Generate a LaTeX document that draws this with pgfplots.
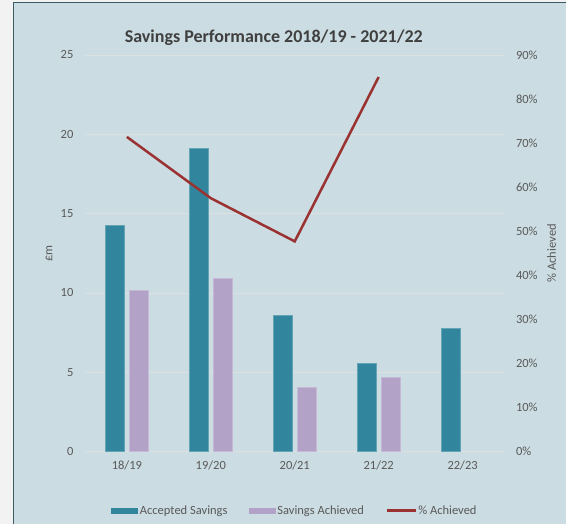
\documentclass[border=0pt]{standalone}
\usepackage{fontspec}
\setmainfont{Carlito}
\usepackage{pgfplots}
\pgfplotsset{compat=1.18}
\definecolor{outer}{RGB}{242,242,242}
\definecolor{bg}{RGB}{203,220,226}
\definecolor{frame}{RGB}{60,90,100}
\definecolor{gridc}{RGB}{220,224,224}
\definecolor{tealbar}{RGB}{49,133,156}
\definecolor{purpbar}{RGB}{179,162,199}
\definecolor{redline}{RGB}{155,50,50}
\definecolor{txt}{RGB}{89,89,89}
\definecolor{ttl}{RGB}{64,64,64}
\pgfplotsset{
  barlegend/.style={legend image code/.code={\fill[##1, draw=none] (0pt,-3pt) rectangle (27pt,3pt);}},
  linelegend/.style={legend image code/.code={\draw[##1] (0pt,0pt) -- (29pt,0pt);}},
}
\begin{document}
\begin{tikzpicture}[x=1pt,y=1pt]
\fill[outer] (0,0) rectangle (566,524);
\fill[bg] (14,0) rectangle (566,521);
\draw[frame, line width=1pt] (14,0) -- (14,521) -- (566,521);
\node[font=\fontsize{18}{22}\selectfont\bfseries, text=ttl, anchor=base] at (274,481.5) {Savings Performance 2018/19 - 2021/22};
\begin{axis}[
  at={(85pt,72pt)}, anchor=south west,
  width=420pt, height=397pt, scale only axis,
  xmin=-0.5, xmax=4.5, ymin=0, ymax=25,
  ytick={0,5,10,15,20,25},
  xtick={0,1,2,3,4},
  xticklabels={18/19,19/20,20/21,21/22,22/23},
  ymajorgrids, grid style={gridc, line width=0.8pt},
  axis line style={draw=none}, major tick length=0pt,
  tick label style={font=\fontsize{12.5}{15}\selectfont, text=txt},
  /pgf/number format/assume math mode=true,
  yticklabel style={xshift=-8pt},
  xticklabel style={yshift=-6pt},
  ylabel={£m},
  every axis y label/.style={at={(axis description cs:-0.0857,0.5)}, rotate=90, anchor=center, font=\fontsize{12.5}{15}\selectfont, text=txt},
]
\addplot[ybar, bar width=19pt, bar shift=-12pt, fill=tealbar, draw=tealbar!75!white, line width=0.6pt] coordinates {(0,14.25) (1,19.1) (2,8.56) (3,5.54) (4,7.75)};
\addplot[ybar, bar width=19pt, bar shift=12pt, fill=purpbar, draw=purpbar!75!white, line width=0.6pt] coordinates {(0,10.18) (1,10.94) (2,4.07) (3,4.70)};
\end{axis}
\begin{axis}[
  at={(85pt,72pt)}, anchor=south west,
  width=420pt, height=397pt, scale only axis,
  xmin=-0.5, xmax=4.5, ymin=0, ymax=90,
  axis y line*=right, hide x axis,
  ytick={0,10,...,90},
  yticklabel={\pgfmathprintnumber{\tick}\%},
  axis line style={draw=none}, major tick length=0pt,
  tick label style={font=\fontsize{12.5}{15}\selectfont, text=txt},
  /pgf/number format/assume math mode=true,
  yticklabel style={xshift=8pt},
  ylabel={\% Achieved},
  every axis y label/.style={at={(axis description cs:1.1119,0.5)}, rotate=90, anchor=center, font=\fontsize{12.5}{15}\selectfont, text=txt},
  legend style={at={(0.5,-0.1486)}, anchor=center, draw=none, fill=none,
    font=\fontsize{12.5}{15}\selectfont, text=txt, legend columns=-1,
    /tikz/every even column/.append style={column sep=20pt},
    nodes={inner xsep=1.5pt, inner ysep=0pt}},
]
\addlegendimage{barlegend, fill=tealbar}
\addlegendentry{Accepted Savings}
\addlegendimage{barlegend, fill=purpbar}
\addlegendentry{Savings Achieved}
\addplot[redline, line width=2.5pt, linelegend] coordinates {(0,71.4) (1,57.5) (2,47.7) (3,85.0)};
\addlegendentry{\% Achieved}
\end{axis}
\end{tikzpicture}
\end{document}
